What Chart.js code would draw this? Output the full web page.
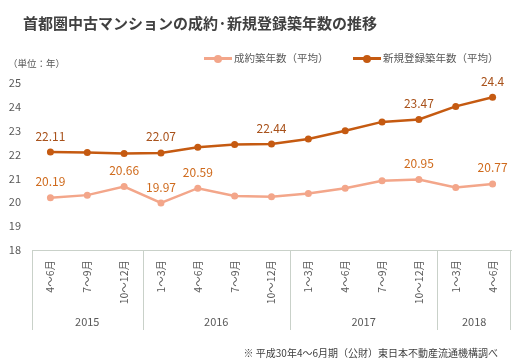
<!DOCTYPE html>
<html>
<head>
<meta charset="utf-8">
<script src="https://cdn.jsdelivr.net/npm/chart.js@4.4.1/dist/chart.umd.min.js"></script>
<style>
body { margin: 0; background: #fff; font-family: "Noto Sans CJK JP", sans-serif; }
#wrap { position: relative; width: 526px; height: 364px; overflow: hidden; }
#chart { position: absolute; left: 0; top: 0; }
.t { position: absolute; white-space: nowrap; line-height: 1; color: #595959; }
#title { left: 23px; top: 15px; font-size: 15px; font-weight: bold; color: #404040; }
#unit { left: 8px; top: 59px; font-size: 9.5px; }
#note { right: 28px; top: 348px; font-size: 10px; color: #404040; }
.lg { position: absolute; top: 52px; height: 12px; font-size: 10.5px; line-height: 12px; color: #595959; white-space: nowrap; }
.lg .ln { position: absolute; left: 0; top: 5px; width: 28px; height: 3px; }
.lg .dot { position: absolute; left: 10px; top: 2.5px; width: 8px; height: 8px; border-radius: 50%; }
.lg .tx { position: absolute; left: 30px; top: 0; }
</style>
</head>
<body>
<div id="wrap">
  <canvas id="chart" width="526" height="364"></canvas>
  <div class="t" id="title">首都圏中古マンションの成約·新規登録築年数の推移</div>
  <div class="t" id="unit">（単位：年）</div>
  <div class="lg" style="left:204px"><span class="ln" style="background:#F3A68A"></span><span class="dot" style="background:#F3A68A"></span><span class="tx">成約築年数（平均）</span></div>
  <div class="lg" style="left:353px"><span class="ln" style="background:#C55A11"></span><span class="dot" style="background:#C55A11"></span><span class="tx">新規登録築年数（平均）</span></div>
  <div class="t" id="note">※ 平成30年4～6月期（公財）東日本不動産流通機構調べ</div>
</div>
<script>
// quarters on the x axis
var quarters = ['4～6月', '7～9月', '10～12月', '1～3月', '4～6月', '7～9月', '10～12月', '1～3月', '4～6月', '7～9月', '10～12月', '1～3月', '4～6月'];
// year groups under the quarters
var years = ['2015', '2016', '2017', '2018'];
var yearCounts = [3, 4, 4, 2];

var contractAge = [20.19, 20.30, 20.66, 19.97, 20.59, 20.26, 20.23, 20.37, 20.59, 20.90, 20.95, 20.62, 20.77];
var listingAge = [22.11, 22.09, 22.05, 22.07, 22.31, 22.42, 22.44, 22.65, 23.00, 23.37, 23.47, 24.02, 24.40];

// which points carry a value label
var contractLabelled = [0, 2, 3, 4, 10, 12];
var listingLabelled = [0, 3, 6, 10, 12];

var yTicks = [18, 19, 20, 21, 22, 23, 24, 25];

var lightColor = '#F3A68A';
var darkColor = '#C55A11';
var axisColor = '#C9D1C9';

var valueLabels = {
    id: 'valueLabels',
    afterDatasetsDraw: function (chart) {
        var ctx = chart.ctx;
        var lists = [contractLabelled, listingLabelled];
        var colors = ['#CF6A1C', '#A8511A'];
        ctx.save();
        ctx.font = '12px "Noto Sans CJK JP", sans-serif';
        ctx.textAlign = 'center';
        ctx.textBaseline = 'middle';
        for (var d = 0; d < chart.data.datasets.length; d++) {
            var meta = chart.getDatasetMeta(d);
            var data = chart.data.datasets[d].data;
            ctx.fillStyle = colors[d];
            lists[d].forEach(function (i) {
                var pt = meta.data[i];
                ctx.fillText(String(data[i]), pt.x, pt.y - 16);
            });
        }
        ctx.restore();
    }
};

var yearGroups = {
    id: 'yearGroups',
    afterDraw: function (chart) {
        var ctx = chart.ctx;
        var xs = chart.scales.x;
        var top = chart.chartArea.bottom;
        var bottom = xs.bottom;
        var half = (xs.getPixelForValue(1) - xs.getPixelForValue(0)) / 2;
        ctx.save();
        ctx.strokeStyle = axisColor;
        ctx.lineWidth = 1;
        ctx.fillStyle = '#595959';
        ctx.font = '11px "Noto Sans CJK JP", sans-serif';
        ctx.textAlign = 'center';
        ctx.textBaseline = 'middle';
        var start = 0;
        for (var g = 0; g < years.length; g++) {
            var end = start + yearCounts[g] - 1;
            var left = xs.getPixelForValue(start) - half;
            var right = xs.getPixelForValue(end) + half;
            ctx.beginPath();
            ctx.moveTo(Math.round(left) + 0.5, top);
            ctx.lineTo(Math.round(left) + 0.5, bottom);
            if (g == years.length - 1) {
                ctx.moveTo(Math.round(right) - 0.5, top);
                ctx.lineTo(Math.round(right) - 0.5, bottom);
            }
            ctx.stroke();
            ctx.fillText(years[g], (left + right) / 2, bottom - 8);
            start = end + 1;
        }
        ctx.restore();
    }
};

var ctx = document.getElementById('chart').getContext('2d');
var myChart = new Chart(ctx, {
    type: 'line',
    data: {
        labels: quarters,
        datasets: [{
            label: '成約築年数（平均）',
            data: contractAge,
            borderColor: lightColor,
            backgroundColor: lightColor,
            borderWidth: 2.5,
            pointRadius: 3.5,
            pointBorderWidth: 0,
            tension: 0,
            fill: false
        }, {
            label: '新規登録築年数（平均）',
            data: listingAge,
            borderColor: darkColor,
            backgroundColor: darkColor,
            borderWidth: 2.5,
            pointRadius: 3.5,
            pointBorderWidth: 0,
            tension: 0,
            fill: false
        }]
    },
    options: {
        responsive: false,
        animation: false,
        devicePixelRatio: 1,
        layout: { padding: { top: 83, left: 0, right: 15, bottom: 34 } },
        plugins: {
            legend: { display: false },
            title: { display: false },
            tooltip: { enabled: false }
        },
        scales: {
            x: {
                offset: true,
                grid: { display: false, drawTicks: false },
                border: { display: true, color: axisColor, width: 1 },
                ticks: {
                    autoSkip: false,
                    maxRotation: 90,
                    minRotation: 90,
                    padding: 10,
                    color: '#595959',
                    font: { size: 10.5, family: '"Noto Sans CJK JP", sans-serif' }
                },
                afterFit: function (scale) { scale.height = 80; }
            },
            y: {
                min: 18,
                max: 25,
                afterBuildTicks: function (scale) {
                    scale.ticks = yTicks.map(function (v) { return { value: v }; });
                },
                grid: { display: false, drawTicks: false },
                border: { display: false },
                ticks: {
                    padding: 11,
                    color: '#595959',
                    font: { size: 11, family: '"Noto Sans CJK JP", sans-serif' }
                },
                afterFit: function (scale) { scale.width = 32; }
            }
        }
    },
    plugins: [valueLabels, yearGroups]
});
</script>
</body>
</html>
